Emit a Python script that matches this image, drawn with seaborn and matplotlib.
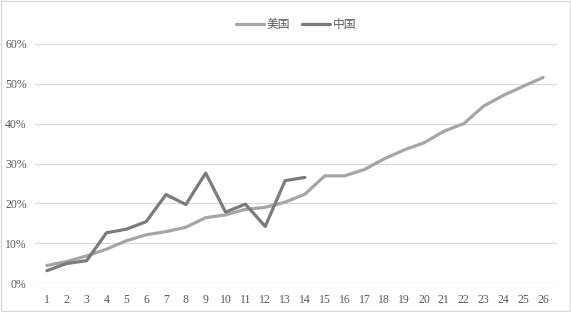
import matplotlib
matplotlib.use("Agg")
import matplotlib.pyplot as plt
import seaborn as sns
import pandas as pd
from matplotlib.patches import Rectangle
from matplotlib.ticker import FuncFormatter

periods = list(range(1, 27))
us_values = [4.4, 5.4, 6.8, 8.5, 10.6, 12.1, 12.9, 14.0, 16.4, 17.1, 18.5, 19.0, 20.3,
             22.3, 26.9, 26.9, 28.5, 31.2, 33.4, 35.2, 38.1, 40.0, 44.4, 47.1, 49.4, 51.6]
china_periods = list(range(1, 15))
china_values = [3.1, 4.9, 5.6, 12.6, 13.5, 15.4, 22.2, 19.7, 27.6, 17.8, 19.8, 14.2, 25.7, 26.5]
series_names = ["美国", "中国"]
y_ticks = [0, 10, 20, 30, 40, 50, 60]

df = pd.concat([
    pd.DataFrame({"period": periods, "value": us_values, "country": series_names[0]}),
    pd.DataFrame({"period": china_periods, "value": china_values, "country": series_names[1]}),
])

sns.set_theme(style="white")
plt.rcParams["font.family"] = ["Noto Sans CJK SC", "DejaVu Sans"]

fig = plt.figure(figsize=(5.71, 3.12), dpi=100)
ax = fig.add_axes([35 / 571, 1 - 283 / 312, (557 - 35) / 571, (283 - 44) / 312])

sns.lineplot(data=df, x="period", y="value", hue="country",
             palette={"美国": "#A5A5A5", "中国": "#7B7B7B"},
             linewidth=2.3, ax=ax, legend=True)

ax.set_xlim(0.4, 26.7)
ax.set_ylim(0, 60)
ax.set_xticks(periods)
ax.set_xticklabels([str(p) for p in periods])
ax.set_yticks(y_ticks)
ax.yaxis.set_major_formatter(FuncFormatter(lambda v, p: f"{int(v)}%"))
ax.grid(axis="y", color="#D9D9D9", linewidth=0.9)
ax.set_axisbelow(True)
for s in ax.spines.values():
    s.set_visible(False)
ax.tick_params(axis="x", length=0, labelsize=8.5, colors="#595959", pad=8)
ax.tick_params(axis="y", length=0, labelsize=8.5, colors="#595959", pad=6)
for lbl in ax.get_xticklabels() + ax.get_yticklabels():
    lbl.set_fontfamily(["Liberation Serif", "DejaVu Serif"])
ax.set_xlabel("")
ax.set_ylabel("")

leg = ax.legend(loc="center", bbox_to_anchor=(0.5, 1.08), ncol=2, frameon=False,
                fontsize=8.5, handlelength=2.4, handletextpad=0.2, columnspacing=1.0)
for t in leg.get_texts():
    t.set_color("#595959")

fig.patches.append(Rectangle((0.002, 0.004), 0.996, 0.992, transform=fig.transFigure,
                             fill=False, edgecolor="#D9D9D9", linewidth=1.0))

fig.savefig("out.png", dpi=100)
